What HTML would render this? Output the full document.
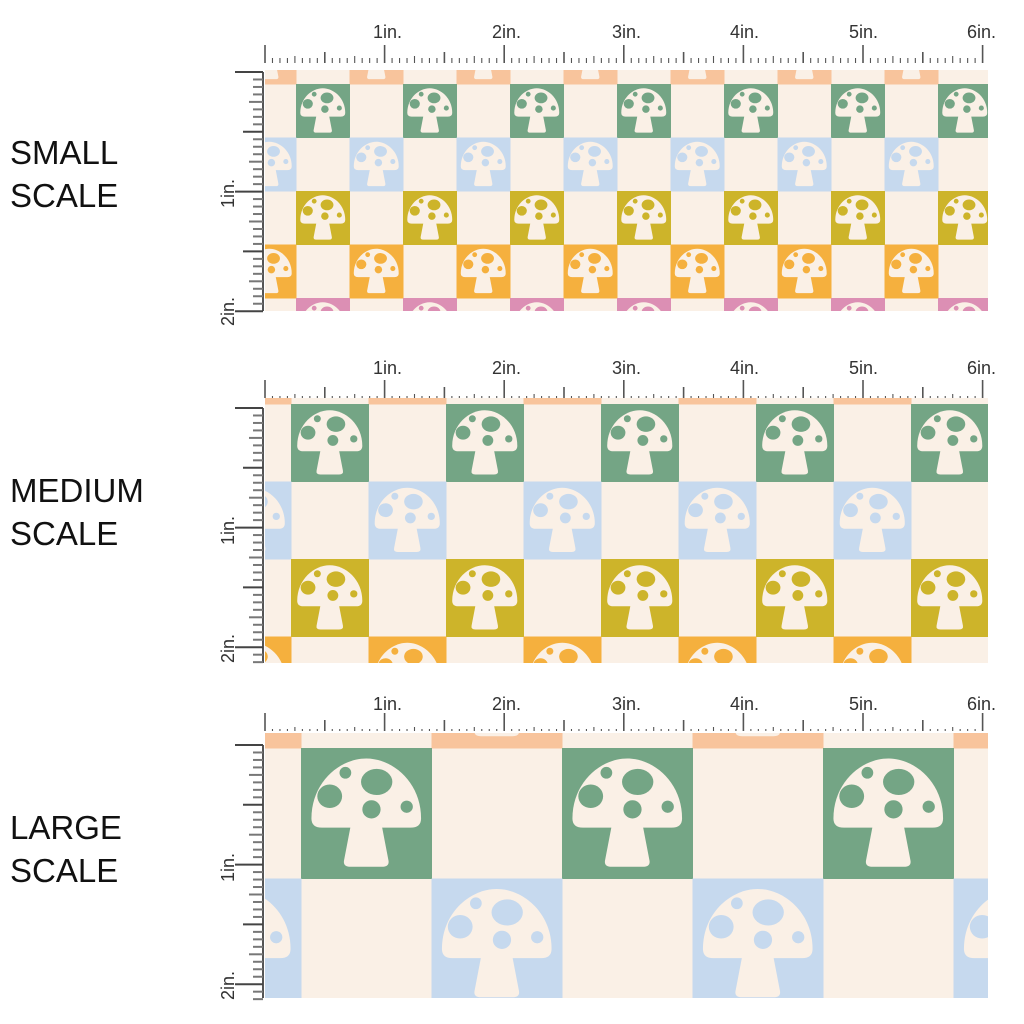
<!DOCTYPE html>
<html><head><meta charset="utf-8"><style>
html,body{margin:0;padding:0;background:#fff;width:1024px;height:1024px;overflow:hidden}
svg{display:block}
.lbl{font-family:"Liberation Sans",sans-serif;font-size:33px;fill:#111}
.rl{font-family:"Liberation Sans",sans-serif;font-size:18px;fill:#333}
</style></head><body>
<svg id="s" width="1024" height="1024" viewBox="0 0 1024 1024" xmlns="http://www.w3.org/2000/svg">
<defs>
<symbol id="m" viewBox="0 0 1 1" overflow="visible">
<path fill="#faf0e6" d="M0.08,0.54 C0.08,0.26 0.3,0.08 0.5,0.08 C0.7,0.08 0.92,0.26 0.92,0.54 Q0.92,0.61 0.84,0.61 L0.16,0.61 Q0.08,0.61 0.08,0.54 Z"/>
<path fill="#faf0e6" d="M0.38,0.6 L0.62,0.6 L0.67,0.86 Q0.68,0.91 0.62,0.91 L0.38,0.91 Q0.32,0.91 0.33,0.86 Z"/>
<g fill="currentColor">
<circle cx="0.34" cy="0.19" r="0.045"/>
<ellipse cx="0.58" cy="0.26" rx="0.12" ry="0.1"/>
<ellipse cx="0.22" cy="0.37" rx="0.095" ry="0.09"/>
<circle cx="0.54" cy="0.47" r="0.07"/>
<circle cx="0.81" cy="0.45" r="0.047"/>
</g>
</symbol>
<clipPath id="c1"><rect x="265" y="70" width="723" height="241"/></clipPath>
<clipPath id="c2"><rect x="265" y="398" width="723" height="265"/></clipPath>
<clipPath id="c3"><rect x="265" y="733" width="723" height="265"/></clipPath>
</defs>
<g id="p1" clip-path="url(#c1)"><rect x="265" y="70" width="723" height="241" fill="#faf0e6"/></g>
<g id="p2" clip-path="url(#c2)"><rect x="265" y="398" width="723" height="265" fill="#faf0e6"/></g>
<g id="p3" clip-path="url(#c3)"><rect x="265" y="733" width="723" height="265" fill="#faf0e6"/></g>
<g id="rulers" stroke="#555" fill="none"></g>

<text class="lbl" x="10" y="164">SMALL</text>
<text class="lbl" x="10" y="207">SCALE</text>
<text class="lbl" x="10" y="502">MEDIUM</text>
<text class="lbl" x="10" y="545">SCALE</text>
<text class="lbl" x="10" y="839">LARGE</text>
<text class="lbl" x="10" y="882">SCALE</text>

<g class="rl">
<text x="373" y="38">1in.</text><text x="492" y="38">2in.</text><text x="612" y="38">3in.</text><text x="730" y="38">4in.</text><text x="849" y="38">5in.</text><text x="967" y="38">6in.</text>
<text x="373" y="374">1in.</text><text x="492" y="374">2in.</text><text x="612" y="374">3in.</text><text x="730" y="374">4in.</text><text x="849" y="374">5in.</text><text x="967" y="374">6in.</text>
<text x="373" y="710">1in.</text><text x="492" y="710">2in.</text><text x="612" y="710">3in.</text><text x="730" y="710">4in.</text><text x="849" y="710">5in.</text><text x="967" y="710">6in.</text>
<text transform="translate(234,208) rotate(-90)">1in.</text>
<text transform="translate(234,326) rotate(-90)">2in.</text>
<text transform="translate(234,545) rotate(-90)">1in.</text>
<text transform="translate(234,663) rotate(-90)">2in.</text>
<text transform="translate(234,882) rotate(-90)">1in.</text>
<text transform="translate(234,1000) rotate(-90)">2in.</text>
</g>
</svg>
<script>
var NS="http://www.w3.org/2000/svg";
var C={cr:"#faf0e6",g:"#74a585",b:"#c6d9ee",y:"#cdb42a",o:"#f5b03e",p:"#dc8fb4",pe:"#f8c49c"};
function panel(id,s,xA,greenTop,rows){
  var g=document.getElementById(id);
  for(var i=0;i<rows.length;i++){
    var col=C[rows[i][0]],t=rows[i][1];
    var y=greenTop+(i-1)*s;
    var start=(t=="A"?xA:xA-s)-4*s;
    for(var x=start;x<1000;x+=2*s){
      if(x+s<265)continue;
      var r=document.createElementNS(NS,"rect");
      r.setAttribute("x",x);r.setAttribute("y",y);r.setAttribute("width",s+0.5);r.setAttribute("height",s+0.5);r.setAttribute("fill",col);g.appendChild(r);
      var u=document.createElementNS(NS,"use");
      u.setAttribute("href","#m");u.setAttribute("x",x);u.setAttribute("y",y);u.setAttribute("width",s);u.setAttribute("height",s);u.setAttribute("color",col);g.appendChild(u);
    }
  }
}
panel("p1",53.5,296,84,[["pe","B"],["g","A"],["b","B"],["y","A"],["o","B"],["p","A"]]);
panel("p2",77.5,291,404,[["pe","B"],["g","A"],["b","B"],["y","A"],["o","B"]]);
panel("p3",130.5,301,748,[["pe","B"],["g","A"],["b","B"]]);
var R=document.getElementById("rulers"),IN=119.6;
function ln(x1,y1,x2,y2,w,c){var l=document.createElementNS(NS,"line");l.setAttribute("x1",x1);l.setAttribute("y1",y1);l.setAttribute("x2",x2);l.setAttribute("y2",y2);l.setAttribute("stroke-width",w||1.3);if(c)l.setAttribute("stroke",c);R.appendChild(l);}
function rul(base,leftTop,leftBot,minor){
  for(var k=0;k<=96;k++){var x=265+k*IN/16;if(x>990)break;var h=k%16==0?18:(k%8==0?11:(k%4==0?minor+2:minor));ln(x,base-h,x,base,k%8==0?1.6:1.1);}
  ln(263,leftTop,263,leftBot,2);
  for(var k=0;k<=36;k++){var y=leftTop+k*IN/16;if(y>leftBot+2)break;var w=k%16==0?28:(k%8==0?20:(k%4==0?14:10));ln(263-w,y,263,y,2,k%8==0?"#444":"#777");}
}
rul(63,72,311,5);
rul(398,408,663,2);
rul(731,745,998,2);
</script>
</body></html>
